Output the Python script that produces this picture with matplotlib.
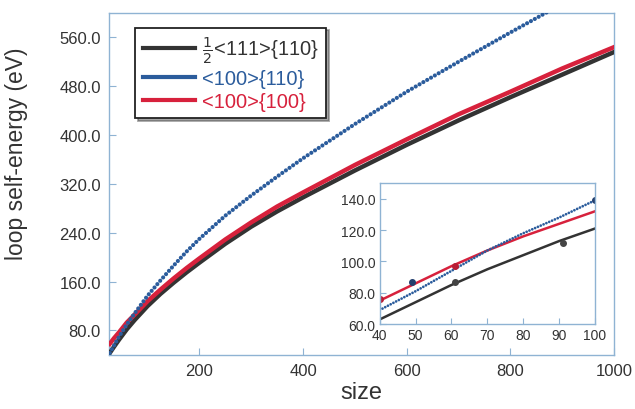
import matplotlib
matplotlib.use("Agg")
import matplotlib.pyplot as plt
from matplotlib.ticker import FormatStrFormatter

plt.rcParams["font.family"] = ["Liberation Sans", "DejaVu Sans"]

# main panel: loop self-energy vs loop size
size = [27, 35, 45, 60, 75, 100, 125, 150, 175, 200, 250, 300, 350, 400,
        500, 600, 700, 800, 900, 1000]
e_111_110 = [43, 53, 65, 82, 97, 120, 140, 158, 175, 191, 222, 250, 275, 298,
             342, 384, 424, 462, 499, 536]
e_100_110 = [43, 55, 70, 90, 108, 137, 162, 186, 209, 230, 268, 301, 332, 362,
             418, 471, 520, 568, 615, 658]
e_100_100 = [58, 67, 77, 93, 106, 128, 147, 165, 182, 198, 229, 257, 283, 306,
             351, 393, 434, 471, 509, 544]

# inset: small loops, fitted lines + atomistic points
size_in = [40, 50, 60, 70, 80, 90, 100]
in_111_110 = [63, 74, 85, 95, 104, 113, 121]
in_100_110 = [69, 81, 94, 107, 118, 128, 139]
in_100_100 = [75, 86, 97, 107, 116, 124, 132]
pts_111_110_x, pts_111_110_y = [61, 91], [87, 112]
pts_100_110_x, pts_100_110_y = [49, 100], [87, 139]
pts_100_100_x, pts_100_100_y = [40, 61], [76, 97]

labels = [r"$\frac{1}{2}$<111>{110}", "<100>{110}", "<100>{100}"]

C_BLACK = "#333333"
C_BLUE = "#2b5c9c"
C_RED = "#d7213c"
C_FRAME = "#8fb3d3"
TXT = "#333333"

fig = plt.figure(figsize=(6.35, 4.10), dpi=100)
fig.patch.set_facecolor("white")
ax = fig.add_axes([0.172, 0.132, 0.795, 0.834])

ax.plot(size, e_111_110, color=C_BLACK, lw=3.2, zorder=3)
ax.plot(size, e_100_100, color=C_RED, lw=3.2, zorder=4)
ax.plot(size, e_100_110, color=C_BLUE, lw=3.0, zorder=5,
        linestyle=(0, (0.01, 1.05)), dash_capstyle="round")

ax.set_xlim(26, 1000)
ax.set_ylim(40, 600)
ax.set_xticks([200, 400, 600, 800, 1000])
ax.set_yticks([80, 160, 240, 320, 400, 480, 560])
ax.yaxis.set_major_formatter(FormatStrFormatter("%.1f"))
ax.tick_params(direction="in", length=5, color=C_FRAME, labelsize=12,
               labelcolor=TXT, pad=6)
for sp in ax.spines.values():
    sp.set_color(C_FRAME)
    sp.set_linewidth(1.0)
ax.set_xlabel("size", fontsize=17, color=TXT, labelpad=2)
ax.set_ylabel("loop self-energy (eV)", fontsize=16.5, color=TXT)
ax.yaxis.set_label_coords(-0.16, 0.59)

# legend with proxy handles so the blue entry shows a solid line
h1, = ax.plot([], [], color=C_BLACK, lw=3)
h2, = ax.plot([], [], color=C_BLUE, lw=3)
h3, = ax.plot([], [], color=C_RED, lw=3)
leg = ax.legend([h1, h2, h3], labels, loc="upper left",
                bbox_to_anchor=(0.052, 0.957), borderaxespad=0,
                fontsize=14.5, frameon=True, fancybox=False, shadow=True,
                handlelength=2.6, handletextpad=0.35, labelspacing=0.2,
                borderpad=0.35)
leg.get_frame().set_edgecolor("#222222")
leg.get_frame().set_linewidth(1.3)
for txt, col in zip(leg.get_texts(), [C_BLACK, C_BLUE, C_RED]):
    txt.set_color(col)

# inset
axi = fig.add_axes([0.598, 0.207, 0.339, 0.344])
axi.plot(size_in, in_111_110, color=C_BLACK, lw=1.8)
axi.plot(size_in, in_100_100, color=C_RED, lw=1.8)
axi.plot(size_in, in_100_110, color=C_BLUE, lw=2.0,
         linestyle=(0, (0.01, 1.1)), dash_capstyle="round")
axi.plot(pts_111_110_x, pts_111_110_y, "o", color="#444444", ms=4)
axi.plot(pts_100_110_x, pts_100_110_y, "o", color="#233f6e", ms=4)
axi.plot(pts_100_100_x, pts_100_100_y, "o", color="#b81c34", ms=4)
axi.set_xlim(40, 100)
axi.set_ylim(60, 150)
axi.set_xticks(range(40, 101, 10))
axi.set_yticks([60, 80, 100, 120, 140])
axi.yaxis.set_major_formatter(FormatStrFormatter("%.1f"))
axi.tick_params(direction="in", length=4, color=C_FRAME, labelsize=10,
                labelcolor=TXT, pad=3)
for sp in axi.spines.values():
    sp.set_color(C_FRAME)
    sp.set_linewidth(1.0)

fig.savefig("out.png", dpi=100)
